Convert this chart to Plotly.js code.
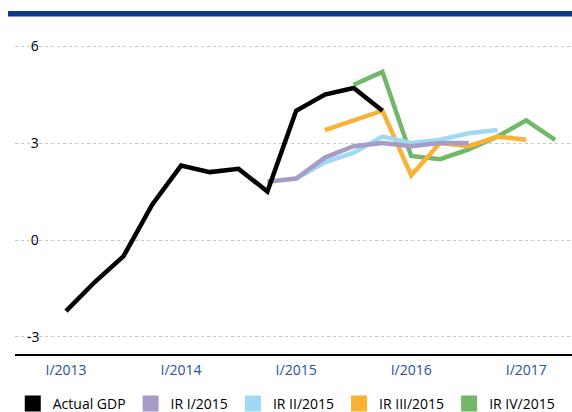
<!DOCTYPE html>
<html>
<head>
<meta charset="utf-8">
<script src="https://cdn.plot.ly/plotly-3.0.1.min.js"></script>
<style>
html,body{margin:0;padding:0;background:#fff;}
#chart{width:572px;height:412px;}
</style>
</head>
<body>
<div id="chart"></div>
<script>
// Quarterly categories
var quarters = ["I/2013","II/2013","III/2013","IV/2013",
                "I/2014","II/2014","III/2014","IV/2014",
                "I/2015","II/2015","III/2015","IV/2015",
                "I/2016","II/2016","III/2016","IV/2016",
                "I/2017","II/2017"];
var tickLabels = ["I/2013","I/2014","I/2015","I/2016","I/2017"];
var yTicks = [-3, 0, 3, 6];

var actualX = quarters.slice(0, 12);
var actualGDP = [-2.2, -1.3, -0.5, 1.1, 2.3, 2.1, 2.2, 1.5, 4.0, 4.5, 4.7, 4.0];

var ir1X = quarters.slice(7, 15);
var ir1 = [1.8, 1.9, 2.55, 2.9, 3.0, 2.9, 3.0, 3.0];

var ir2X = quarters.slice(8, 16);
var ir2 = [1.9, 2.4, 2.7, 3.2, 3.0, 3.1, 3.3, 3.4];

var ir3X = quarters.slice(9, 17);
var ir3 = [3.4, 3.7, 4.0, 2.0, 3.0, 2.9, 3.2, 3.1];

var ir4X = quarters.slice(10, 18);
var ir4 = [4.8, 5.2, 2.6, 2.5, 2.8, 3.2, 3.7, 3.1];

var names = ["Actual GDP", "IR I/2015", "IR II/2015", "IR III/2015", "IR IV/2015"];
var colors = ["#000000", "#a79bc9", "#9fd9f4", "#f9b234", "#72b869"];

function line(x, y, color, width) {
  return {x: x, y: y, type: "scatter", mode: "lines", showlegend: false,
          hoverinfo: "skip", line: {color: color, width: width, shape: "linear"}};
}
function legendItem(name, color) {
  return {x: [null], y: [null], type: "scatter", mode: "markers", name: name,
          marker: {symbol: "square", size: 16, color: color}};
}

var data = [
  line(ir4X, ir4, colors[4], 4.5),
  line(ir3X, ir3, colors[3], 4.5),
  line(ir2X, ir2, colors[2], 4.5),
  line(ir1X, ir1, colors[1], 4.5),
  line(actualX, actualGDP, colors[0], 4.5)
];
for (var i = 0; i < names.length; i++) data.push(legendItem(names[i], colors[i]));

// right-align positive labels with the minus sign using a punctuation space
var yTickText = yTicks.map(function (v) { return v < 0 ? String(v) : "\u2008" + v; });

var layout = {
  width: 572, height: 412,
  margin: {l: 15, r: 0, t: 25, b: 58, autoexpand: false},
  paper_bgcolor: "#ffffff", plot_bgcolor: "#ffffff",
  font: {family: "Open Sans, sans-serif", size: 14, color: "#000"},
  showlegend: true,
  legend: {orientation: "h", x: -0.004, xanchor: "left", y: -34 / 329, yanchor: "top",
           font: {size: 14, color: "#000"}, itemclick: false, traceorder: "normal",
           bgcolor: "rgba(0,0,0,0)"},
  xaxis: {type: "category", categoryorder: "array", categoryarray: quarters,
          range: [-1.774, 17.59], showgrid: false, zeroline: false,
          showline: true, linecolor: "#000", linewidth: 2, ticks: "",
          tickmode: "array", tickvals: tickLabels, ticktext: tickLabels,
          ticklabelstandoff: 2,
          tickfont: {size: 14, color: "#2451a0"}, fixedrange: true},
  yaxis: {range: [-3.526, 6.65], tickmode: "array", tickvals: yTicks,
          ticktext: yTickText,
          showgrid: true, gridcolor: "#c9c9c9", gridwidth: 1, griddash: "dot",
          zeroline: false, showline: false, ticks: "",
          ticklabelposition: "inside", ticklabelstandoff: 9,
          tickfont: {size: 14, color: "#000"}, fixedrange: true},
  shapes: [{type: "rect", xref: "paper", yref: "paper",
            x0: -0.0125, x1: 1.01, y0: 1.0 + 8.5/329, y1: 1.0 + 14/329,
            fillcolor: "#0b3c8c", line: {width: 0}}]
};

Plotly.newPlot("chart", data, layout, {displayModeBar: false, staticPlot: true});
</script>
</body>
</html>
